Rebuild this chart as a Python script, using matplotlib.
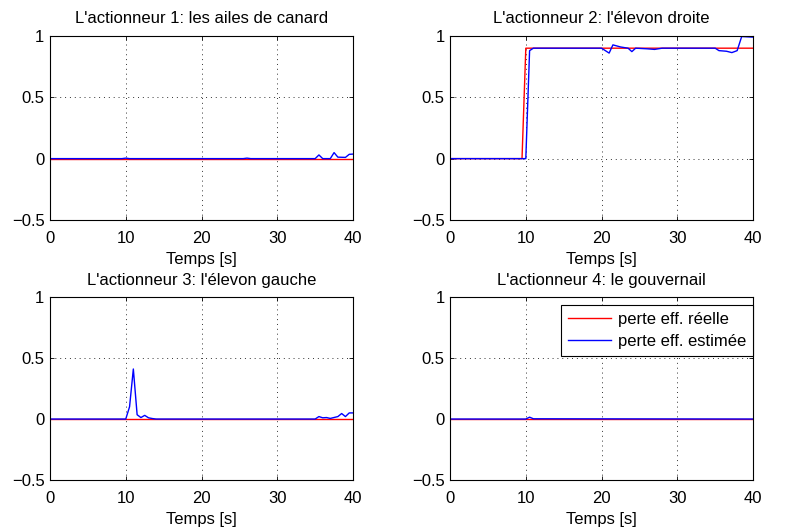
import numpy as np
import matplotlib.pyplot as plt

plt.rcParams['font.family'] = ['Liberation Sans', 'DejaVu Sans']
plt.rcParams['font.size'] = 12

# donnees (temps [s], perte d'efficacite)
titles = ["L'actionneur 1: les ailes de canard",
          "L'actionneur 2: l'élevon droite",
          "L'actionneur 3: l'élevon gauche",
          "L'actionneur 4: le gouvernail"]

# perte reelle
t_r1 = [0, 40]
r1 = [0, 0]
t_r2 = [0, 9.5, 10, 40]
r2 = [0, 0, 0.9, 0.9]
t_r3 = [0, 40]
r3 = [0, 0]
t_r4 = [0, 40]
r4 = [0, 0]

# perte estimee
t_e1 = [0, 9.5, 10, 10.5, 25.5, 26, 26.5, 35, 35.5, 36, 37, 37.5, 38, 39, 39.5, 40]
e1 = [0, 0, 0.004, 0, 0, 0.004, 0, 0, 0.03, 0.0, 0.0, 0.049, 0.012, 0.01, 0.035, 0.037]
t_e2 = [0, 10, 10.5, 11, 20, 20.5, 21, 21.5, 22.5, 23.5, 24, 24.5, 26, 27, 28, 35, 35.5, 36.5, 37.2, 37.9, 38.5, 40]
e2 = [0, 0, 0.88, 0.9, 0.9, 0.88, 0.86, 0.927, 0.91, 0.9, 0.872, 0.9, 0.895, 0.89, 0.9, 0.9, 0.88, 0.875, 0.864, 0.88, 0.995, 0.99]
t_e3 = [0, 10, 10.5, 11, 11.5, 12, 12.5, 13, 13.5, 14, 35, 35.5, 36, 36.5, 37, 38, 38.5, 39, 39.5, 40]
e3 = [0, 0, 0.1, 0.41, 0.035, 0.012, 0.03, 0.01, 0.004, 0, 0, 0.02, 0.01, 0.012, 0.005, 0.02, 0.045, 0.02, 0.05, 0.05]
t_e4 = [0, 10, 10.5, 11, 40]
e4 = [0, 0, 0.015, 0.002, 0]

real = [(t_r1, r1), (t_r2, r2), (t_r3, r3), (t_r4, r4)]
est = [(t_e1, e1), (t_e2, e2), (t_e3, e3), (t_e4, e4)]

fig = plt.figure(figsize=(8.08, 5.32), dpi=100)
pos = [[0.0619, 0.5865, 0.375, 0.346],
       [0.557, 0.5865, 0.375, 0.346],
       [0.0619, 0.0977, 0.375, 0.344],
       [0.557, 0.0977, 0.375, 0.344]]

for i in range(4):
    ax = fig.add_axes(pos[i])
    ax.plot(real[i][0], real[i][1], color='r', lw=1, label='perte eff. réelle')
    ax.plot(est[i][0], est[i][1], color='b', lw=1, label='perte eff. estimée')
    ax.set_xlim(0, 40)
    ax.set_ylim(-0.5, 1)
    ax.set_xticks([0, 10, 20, 30, 40])
    ax.set_yticks([-0.5, 0, 0.5, 1])
    ax.set_yticklabels(['\u22120.5', '0', '0.5', '1'])
    ax.grid(True, linestyle=(0, (1, 4)), color='#333333', linewidth=0.7)
    ax.tick_params(axis='x', direction='in', top=True, length=3, width=0.6, pad=8)
    ax.tick_params(axis='y', direction='in', right=True, length=3, width=0.6, pad=4)
    for s in ax.spines.values():
        s.set_linewidth(0.8)
    ax.set_title(titles[i], fontsize=12, pad=9)
    ax.set_xlabel('Temps [s]', labelpad=4)
    if i == 3:
        leg = ax.legend(loc='upper right', bbox_to_anchor=(1.0, 0.956), borderaxespad=0,
                        fancybox=False, edgecolor='k', framealpha=1, fontsize=12,
                        handlelength=2.6, handletextpad=0.4, borderpad=0.4,
                        labelspacing=0.45)
        leg.get_frame().set_linewidth(0.8)

fig.savefig('out.png', dpi=100)
